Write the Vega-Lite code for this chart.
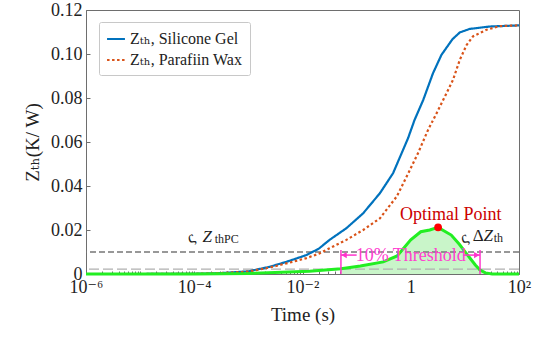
{
  "$schema": "https://vega.github.io/schema/vega-lite/v6.json",
  "width": 433,
  "height": 264,
  "autosize": {"type": "none"},
  "padding": {"left": 86, "top": 10, "right": 14, "bottom": 63},
  "config": {
    "font": "Liberation Serif, DejaVu Serif, serif",
    "view": {"stroke": "#6e6e6e", "strokeWidth": 1},
    "text": {"font": "Liberation Serif, DejaVu Serif, serif"},
    "legend": {"labelFont": "Liberation Serif, DejaVu Serif, serif"},
    "axis": {"labelFont": "Liberation Serif, DejaVu Serif, serif", "titleFont": "Liberation Serif, DejaVu Serif, serif", "labelColor": "#222", "titleColor": "#222", "domainColor": "#6e6e6e", "tickColor": "#6e6e6e", "grid": false, "titleFontWeight": "normal"}
  },
  "datasets": {
    "zth": [
      {"t": 0.000001, "z": 0, "s": "Zₜₕ, Silicone Gel"},
      {"t": 0.00001, "z": 0, "s": "Zₜₕ, Silicone Gel"},
      {"t": 0.0001, "z": 0.0001, "s": "Zₜₕ, Silicone Gel"},
      {"t": 0.0003, "z": 0.0004, "s": "Zₜₕ, Silicone Gel"},
      {"t": 0.001, "z": 0.0012, "s": "Zₜₕ, Silicone Gel"},
      {"t": 0.0025, "z": 0.0033, "s": "Zₜₕ, Silicone Gel"},
      {"t": 0.005, "z": 0.0055, "s": "Zₜₕ, Silicone Gel"},
      {"t": 0.0118, "z": 0.0086, "s": "Zₜₕ, Silicone Gel"},
      {"t": 0.02, "z": 0.0115, "s": "Zₜₕ, Silicone Gel"},
      {"t": 0.0316, "z": 0.0155, "s": "Zₜₕ, Silicone Gel"},
      {"t": 0.0646, "z": 0.0208, "s": "Zₜₕ, Silicone Gel"},
      {"t": 0.132, "z": 0.0276, "s": "Zₜₕ, Silicone Gel"},
      {"t": 0.269, "z": 0.0367, "s": "Zₜₕ, Silicone Gel"},
      {"t": 0.471, "z": 0.0458, "s": "Zₜₕ, Silicone Gel"},
      {"t": 0.891, "z": 0.0617, "s": "Zₜₕ, Silicone Gel"},
      {"t": 1.175, "z": 0.07, "s": "Zₜₕ, Silicone Gel"},
      {"t": 1.7, "z": 0.0791, "s": "Zₜₕ, Silicone Gel"},
      {"t": 2.57, "z": 0.0912, "s": "Zₜₕ, Silicone Gel"},
      {"t": 3.69, "z": 0.0996, "s": "Zₜₕ, Silicone Gel"},
      {"t": 5.89, "z": 0.1067, "s": "Zₜₕ, Silicone Gel"},
      {"t": 8.05, "z": 0.1098, "s": "Zₜₕ, Silicone Gel"},
      {"t": 12.3, "z": 0.1114, "s": "Zₜₕ, Silicone Gel"},
      {"t": 28.8, "z": 0.1125, "s": "Zₜₕ, Silicone Gel"},
      {"t": 100, "z": 0.113, "s": "Zₜₕ, Silicone Gel"},
      {"t": 0.000001, "z": 0, "s": "Zₜₕ, Parafiin Wax"},
      {"t": 0.00001, "z": 0, "s": "Zₜₕ, Parafiin Wax"},
      {"t": 0.0001, "z": 0.0001, "s": "Zₜₕ, Parafiin Wax"},
      {"t": 0.0003, "z": 0.0004, "s": "Zₜₕ, Parafiin Wax"},
      {"t": 0.001, "z": 0.0011, "s": "Zₜₕ, Parafiin Wax"},
      {"t": 0.0025, "z": 0.003, "s": "Zₜₕ, Parafiin Wax"},
      {"t": 0.005, "z": 0.0048, "s": "Zₜₕ, Parafiin Wax"},
      {"t": 0.0118, "z": 0.0072, "s": "Zₜₕ, Parafiin Wax"},
      {"t": 0.02, "z": 0.0092, "s": "Zₜₕ, Parafiin Wax"},
      {"t": 0.0316, "z": 0.0117, "s": "Zₜₕ, Parafiin Wax"},
      {"t": 0.0646, "z": 0.0155, "s": "Zₜₕ, Parafiin Wax"},
      {"t": 0.132, "z": 0.02, "s": "Zₜₕ, Parafiin Wax"},
      {"t": 0.269, "z": 0.0253, "s": "Zₜₕ, Parafiin Wax"},
      {"t": 0.55, "z": 0.0352, "s": "Zₜₕ, Parafiin Wax"},
      {"t": 0.93, "z": 0.0465, "s": "Zₜₕ, Parafiin Wax"},
      {"t": 1.36, "z": 0.0549, "s": "Zₜₕ, Parafiin Wax"},
      {"t": 2.09, "z": 0.0655, "s": "Zₜₕ, Parafiin Wax"},
      {"t": 2.99, "z": 0.073, "s": "Zₜₕ, Parafiin Wax"},
      {"t": 4.57, "z": 0.0821, "s": "Zₜₕ, Parafiin Wax"},
      {"t": 6.03, "z": 0.0882, "s": "Zₜₕ, Parafiin Wax"},
      {"t": 8.05, "z": 0.0973, "s": "Zₜₕ, Parafiin Wax"},
      {"t": 10.7, "z": 0.104, "s": "Zₜₕ, Parafiin Wax"},
      {"t": 14.1, "z": 0.108, "s": "Zₜₕ, Parafiin Wax"},
      {"t": 25.1, "z": 0.111, "s": "Zₜₕ, Parafiin Wax"},
      {"t": 44.7, "z": 0.1127, "s": "Zₜₕ, Parafiin Wax"},
      {"t": 100, "z": 0.113, "s": "Zₜₕ, Parafiin Wax"}
    ],
    "dz": [
      {"t": 0.000001, "d": 0},
      {"t": 0.0001, "d": 0},
      {"t": 0.001, "d": 0.0002},
      {"t": 0.0135, "d": 0.0013},
      {"t": 0.0513, "d": 0.0024},
      {"t": 0.117, "d": 0.0036},
      {"t": 0.31, "d": 0.0055},
      {"t": 0.56, "d": 0.0082},
      {"t": 1.0, "d": 0.0155},
      {"t": 1.53, "d": 0.0192},
      {"t": 2.24, "d": 0.02},
      {"t": 3.2, "d": 0.0212},
      {"t": 5.6, "d": 0.0177},
      {"t": 7.9, "d": 0.0135},
      {"t": 10.6, "d": 0.0094},
      {"t": 15.6, "d": 0.0041},
      {"t": 19.05, "d": 0.0018},
      {"t": 24, "d": 0.0005},
      {"t": 32, "d": 0},
      {"t": 100, "d": 0}
    ]
  },
  "layer": [
    {
      "data": {"name": "dz"},
      "transform": [{"filter": "datum.t >= 0.05 && datum.t <= 40"}],
      "mark": {"type": "area", "color": "#c9f5c9", "opacity": 1},
      "encoding": {
        "x": {"field": "t", "type": "quantitative"},
        "y": {"field": "d", "type": "quantitative"}
      }
    },
    {
      "data": {"values": [{"h": 0.01}]},
      "mark": {"type": "rule", "color": "#777777", "strokeDash": [6, 3], "strokeWidth": 1.3},
      "encoding": {"y": {"field": "h", "type": "quantitative"}}
    },
    {
      "data": {"values": [{"h": 0.0022}]},
      "mark": {"type": "rule", "color": "#b0b0b0", "strokeDash": [10, 4], "strokeWidth": 1.1},
      "encoding": {"y": {"field": "h", "type": "quantitative"}}
    },
    {
      "data": {"name": "zth"},
      "mark": {"type": "line", "strokeWidth": 2.2},
      "encoding": {
        "x": {
          "field": "t", "type": "quantitative",
          "scale": {"type": "log", "domain": [0.000001, 100], "nice": false},
          "axis": {
            "title": "Time (s)", "titleFontSize": 19, "titlePadding": 9,
            "values": [0.000001, 0.000002, 0.000003, 0.000004, 0.000005, 0.000006, 0.000007, 0.000008, 0.000009,
                       0.00001, 0.00002, 0.00003, 0.00004, 0.00005, 0.00006, 0.00007, 0.00008, 0.00009,
                       0.0001, 0.0002, 0.0003, 0.0004, 0.0005, 0.0006, 0.0007, 0.0008, 0.0009,
                       0.001, 0.002, 0.003, 0.004, 0.005, 0.006, 0.007, 0.008, 0.009,
                       0.01, 0.02, 0.03, 0.04, 0.05, 0.06, 0.07, 0.08, 0.09,
                       0.1, 0.2, 0.3, 0.4, 0.5, 0.6, 0.7, 0.8, 0.9,
                       1, 2, 3, 4, 5, 6, 7, 8, 9,
                       10, 20, 30, 40, 50, 60, 70, 80, 90, 100],
            "labelExpr": "datum.value == 0.000001 ? '10⁻⁶' : datum.value == 0.0001 ? '10⁻⁴' : datum.value == 0.01 ? '10⁻²' : datum.value == 1 ? '1' : datum.value == 100 ? '10²' : ''",
            "labelFontSize": 18, "labelOverlap": false, "labelBound": false, "labelFlush": false,
            "tickSize": -3, "labelPadding": 7
          }
        },
        "y": {
          "field": "z", "type": "quantitative",
          "scale": {"domain": [0, 0.12], "nice": false},
          "axis": {
            "title": "Zₜₕ(K/ W)", "titleFontSize": 19, "titlePadding": 8,
            "values": [0, 0.02, 0.04, 0.06, 0.08, 0.1, 0.12],
            "labelExpr": "datum.value == 0 ? '0' : format(datum.value, '.2f')",
            "labelFontSize": 18, "tickSize": -4, "labelPadding": 8
          }
        },
        "color": {
          "field": "s", "type": "nominal",
          "scale": {"domain": ["Zₜₕ, Silicone Gel", "Zₜₕ, Parafiin Wax"], "range": ["#0072BD", "#D95319"]},
          "legend": {
            "title": null, "orient": "none", "legendX": 13, "legendY": 12,
            "fillColor": "white", "strokeColor": "#c8c8c8", "padding": 7, "cornerRadius": 2,
            "labelFontSize": 16, "labelColor": "#222",
            "symbolType": "stroke", "symbolSize": 320, "symbolStrokeWidth": 2, "rowPadding": 3
          }
        },
        "strokeDash": {
          "field": "s", "type": "nominal",
          "scale": {"domain": ["Zₜₕ, Silicone Gel", "Zₜₕ, Parafiin Wax"], "range": [[1, 0], [2.5, 2.5]]},
          "legend": {"title": null}
        }
      }
    },
    {
      "data": {"name": "dz"},
      "mark": {"type": "line", "color": "#22ee22", "strokeWidth": 3},
      "encoding": {
        "x": {"field": "t", "type": "quantitative"},
        "y": {"field": "d", "type": "quantitative"}
      }
    },
    {
      "data": {"values": [{"t": 0.0513}, {"t": 19.05}]},
      "mark": {"type": "rule", "color": "#ff33cc", "strokeWidth": 1.5},
      "encoding": {
        "x": {"field": "t", "type": "quantitative"},
        "y": {"datum": 0},
        "y2": {"datum": 0.0109}
      }
    },
    {
      "data": {"values": [{"a": 0.0513, "b": 0.1}, {"a": 9.2, "b": 19.05}]},
      "mark": {"type": "rule", "color": "#ff33cc", "strokeWidth": 1.5},
      "encoding": {
        "x": {"field": "a", "type": "quantitative"},
        "x2": {"field": "b"},
        "y": {"datum": 0.0086}
      }
    },
    {
      "data": {"values": [{"t": 0.0585, "dir": "l"}]},
      "mark": {"type": "point", "shape": "triangle-left", "filled": true, "color": "#ff33cc", "size": 40, "opacity": 1},
      "encoding": {"x": {"field": "t", "type": "quantitative"}, "y": {"datum": 0.0086}}
    },
    {
      "data": {"values": [{"t": 16.6, "dir": "r"}]},
      "mark": {"type": "point", "shape": "triangle-right", "filled": true, "color": "#ff33cc", "size": 40, "opacity": 1},
      "encoding": {"x": {"field": "t", "type": "quantitative"}, "y": {"datum": 0.0086}}
    },
    {
      "data": {"values": [{"t": 1.0, "z": 0.006, "txt": "10% Threshold"}]},
      "mark": {"type": "text", "color": "#ff40d0", "fontSize": 18, "align": "center", "baseline": "alphabetic"},
      "encoding": {"x": {"field": "t", "type": "quantitative"}, "y": {"field": "z", "type": "quantitative"}, "text": {"field": "txt"}}
    },
    {
      "data": {"values": [{"t": 3.2, "z": 0.0212}]},
      "mark": {"type": "point", "filled": true, "color": "#ff0000", "size": 60, "opacity": 1},
      "encoding": {"x": {"field": "t", "type": "quantitative"}, "y": {"field": "z", "type": "quantitative"}}
    },
    {
      "data": {"values": [{"t": 5.49, "z": 0.0245, "txt": "Optimal Point"}]},
      "mark": {"type": "text", "color": "#cc0000", "fontSize": 18, "align": "center", "baseline": "alphabetic"},
      "encoding": {"x": {"field": "t", "type": "quantitative"}, "y": {"field": "z", "type": "quantitative"}, "text": {"field": "txt"}}
    },
    {
      "data": {"values": [{"t": 0.000142, "z": 0.0147, "txt": "Z"}, {"t": 22, "z": 0.0151, "txt": "Z"}]},
      "mark": {"type": "text", "color": "#222", "fontSize": 17, "fontStyle": "italic", "align": "left", "baseline": "alphabetic"},
      "encoding": {"x": {"field": "t", "type": "quantitative"}, "y": {"field": "z", "type": "quantitative"}, "text": {"field": "txt"}}
    },
    {
      "data": {"values": [{"t": 14.0, "z": 0.0151, "txt": "Δ"}]},
      "mark": {"type": "text", "color": "#222", "fontSize": 17, "align": "left", "baseline": "alphabetic"},
      "encoding": {"x": {"field": "t", "type": "quantitative"}, "y": {"field": "z", "type": "quantitative"}, "text": {"field": "txt"}}
    },
    {
      "data": {"values": [{"t": 0.000238, "z": 0.014, "txt": "thPC"}, {"t": 34, "z": 0.0145, "txt": "th"}]},
      "mark": {"type": "text", "color": "#222", "fontSize": 12, "align": "left", "baseline": "alphabetic"},
      "encoding": {"x": {"field": "t", "type": "quantitative"}, "y": {"field": "z", "type": "quantitative"}, "text": {"field": "txt"}}
    },
    {
      "data": {"values": [{"t": 0.000095, "z": 0.0143, "txt": "ς"}, {"t": 10.6, "z": 0.0142, "txt": "ς"}]},
      "mark": {"type": "text", "color": "#222", "fontSize": 17, "align": "center", "baseline": "alphabetic", "angle": -25},
      "encoding": {"x": {"field": "t", "type": "quantitative"}, "y": {"field": "z", "type": "quantitative"}, "text": {"field": "txt"}}
    }
  ]
}
